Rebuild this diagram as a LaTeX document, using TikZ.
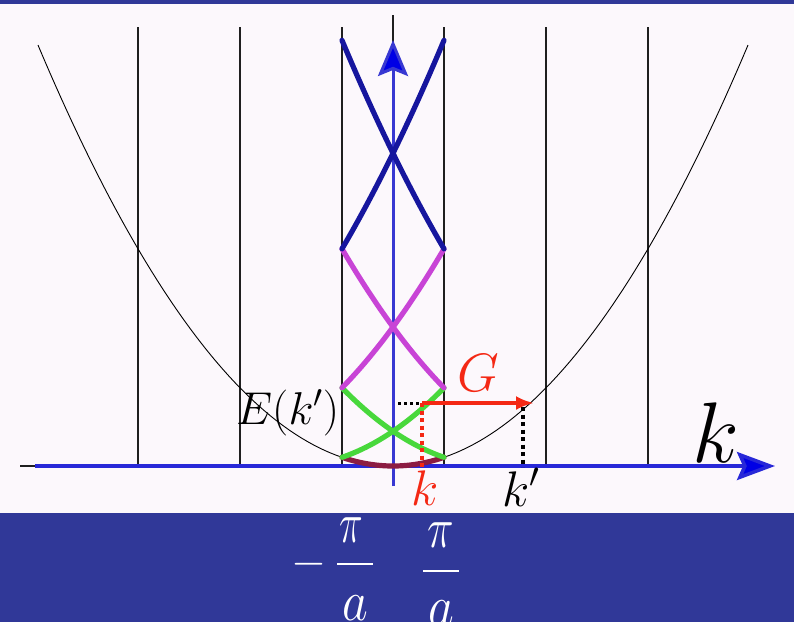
\RequirePackage{fix-cm}
\documentclass[tikz,border=0pt]{standalone}
\usepackage{graphicx}
\usetikzlibrary{arrows.meta}
\definecolor{bandbg}{RGB}{48,56,152}
\definecolor{paper}{RGB}{252,248,252}
\definecolor{axisblue}{RGB}{40,40,216}
\definecolor{vaxisblue}{RGB}{56,56,210}
\definecolor{navyband}{RGB}{22,22,158}
\definecolor{magband}{RGB}{200,68,214}
\definecolor{greenband}{RGB}{72,216,60}
\definecolor{maroonband}{RGB}{140,28,66}
\definecolor{gred}{RGB}{244,40,20}
\tikzset{
  gridline/.style={line width=1.2pt, black!88},
  bandline/.style={line width=5.2pt, line cap=round},
  lbl/.style={inner sep=0pt, anchor=base west},
  whitetxt/.style={inner sep=0pt, anchor=base, text=white, font=\fontsize{50}{60}\selectfont},
  dotline/.style={line width=4pt, dash pattern=on 4pt off 3.5pt}
}
\begin{document}
\begin{tikzpicture}[x=1pt,y=-1pt]
\useasboundingbox (0,0) rectangle (794,622);
\fill[bandbg] (0,0) rectangle (794,622);
\fill[paper] (0,4) rectangle (794,513);
% grid lines
\foreach \gx in {138,240,342,444,546,648} \draw[gridline] (\gx,27) -- (\gx,466);
\draw[gridline] (393,15) -- (393,466);
\draw[gridline] (20,466) -- (60,466);
% free-electron parabola
\draw[line width=0.9pt, black] plot[domain=-355:355, samples=120] ({393+\x},{466-0.334*(\x/10)*(\x/10)});
% axes
\draw[axisblue, line width=3.5pt, -{Stealth[length=38pt,width=28pt,inset=6pt,fill=blue!90!black]}] (35,466) -- (775,466);
\draw[vaxisblue, line width=3pt, -{Stealth[length=36pt,width=30pt,inset=6pt,fill=blue!90!black]}] (393,486) -- (393,40);
% folded bands
\draw[bandline, maroonband] plot[domain=-51:51, samples=40] ({393+\x},{466-0.334*(\x/10)*(\x/10)});
\draw[bandline, greenband] plot[domain=-51:51, samples=40] ({393+\x},{466-0.334*((\x+102)/10)*((\x+102)/10)});
\draw[bandline, greenband] plot[domain=-51:51, samples=40] ({393+\x},{466-0.334*((\x-102)/10)*((\x-102)/10)});
\draw[bandline, magband] plot[domain=-51:51, samples=40] ({393+\x},{466-0.334*((\x+204)/10)*((\x+204)/10)});
\draw[bandline, magband] plot[domain=-51:51, samples=40] ({393+\x},{466-0.334*((\x-204)/10)*((\x-204)/10)});
\draw[bandline, navyband] plot[domain=-51:51, samples=40] ({393+\x},{466-0.334*((\x+306)/10)*((\x+306)/10)});
\draw[bandline, navyband] plot[domain=-51:51, samples=40] ({393+\x},{466-0.334*((\x-306)/10)*((\x-306)/10)});
% construction points
\coordinate (ax) at (398,403);
\coordinate (kE) at (422,403);
\coordinate (kk) at (422,467);
\coordinate (kpE) at (523,407);
\coordinate (kp) at (523,467);
\coordinate (Gtip) at (534,403);
\draw[black, line width=3pt, dash pattern=on 3pt off 3pt] (ax) -- (kE);
\draw[dotline, gred] (kE) -- (kk);
\draw[dotline, black] (kpE) -- (kp);
\draw[gred, line width=4pt, -{Latex[length=18pt,width=14pt]}] (kE) -- (Gtip);
% labels
\node[lbl, font=\fontsize{46}{54}\selectfont] (Ekp) at (236,424) {$E(k')$};
\node[lbl, text=gred, font=\fontsize{54}{64}\selectfont] (Glbl) at (457,391) {$G$};
\node[lbl, font=\fontsize{86}{100}\selectfont] (kaxis) at (692,462) {$k$};
\node[lbl, text=gred, font=\fontsize{50}{60}\selectfont] (klbl) at (411,505) {$k$};
\node[lbl, font=\fontsize{50}{60}\selectfont] (kplbl) at (502,506) {$k'$};
% bottom fractions
\node[inner sep=0pt, text=white, font=\fontsize{45}{54}\selectfont] (minus) at (308.5,564) {$-$};
\node[whitetxt] (pil) at (351,542) {\scalebox{0.8}[1.15]{$\pi$}};
\coordinate (barlA) at (337,564);
\coordinate (barlB) at (373,564);
\draw[white, line width=2.6pt] (barlA) -- (barlB);
\node[whitetxt] (al) at (355,620) {\scalebox{1.0}[1.15]{$a$}};
\node[whitetxt] (pir) at (441,547) {\scalebox{0.9}[1.15]{$\pi$}};
\coordinate (barrA) at (423,571);
\coordinate (barrB) at (459,571);
\draw[white, line width=2.6pt] (barrA) -- (barrB);
\node[whitetxt] (ar) at (441,625) {\scalebox{1.0}[1.15]{$a$}};
\end{tikzpicture}
\end{document}
